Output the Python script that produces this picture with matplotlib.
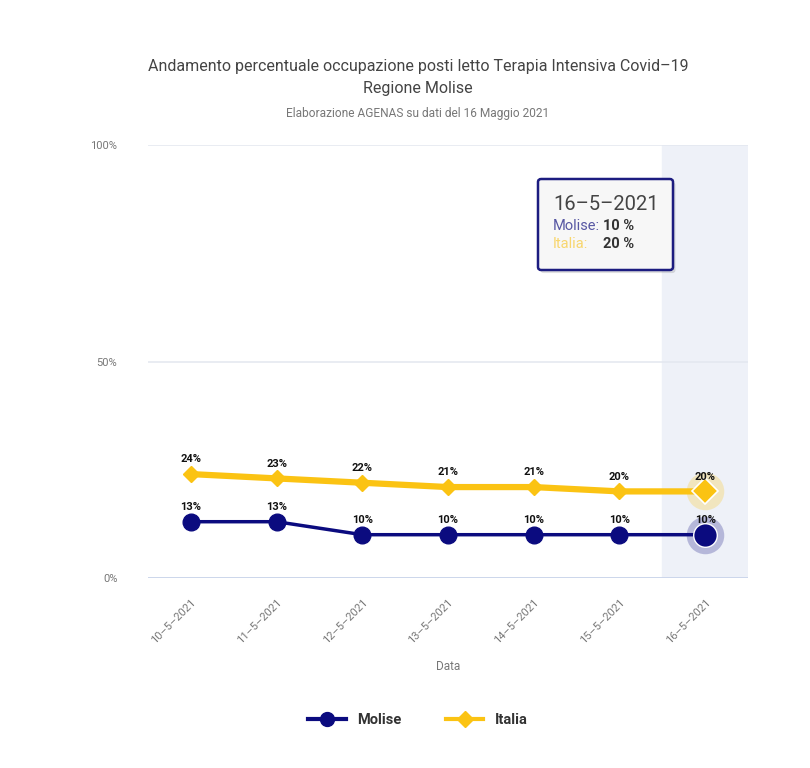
import matplotlib
matplotlib.use("Agg")
import matplotlib.pyplot as plt
from matplotlib.patches import FancyBboxPatch
from matplotlib.lines import Line2D

plt.rcParams['font.family'] = ['Roboto', 'DejaVu Sans']

# data ----
dates = ["10–5–2021", "11–5–2021", "12–5–2021", "13–5–2021",
         "14–5–2021", "15–5–2021", "16–5–2021"]
molise = [13, 13, 10, 10, 10, 10, 10]
italia = [24, 23, 22, 21, 21, 20, 20]
y_ticks = [0, 50, 100]

NAVY = "#0b0b7f"
GOLD = "#fbc313"
GRAY = "#777777"

W, H = 810, 768
fig = plt.figure(figsize=(W / 100, H / 100), dpi=100)
fig.patch.set_facecolor("white")

# plot area in pixel terms
left, right, top, bottom = 148, 748, 145, 578
ax = fig.add_axes([left / W, 1 - bottom / H, (right - left) / W, (bottom - top) / H])
ax.set_xlim(-0.5, len(dates) - 0.5)
ax.set_ylim(0, 100)
for s in ax.spines.values():
    s.set_visible(False)

# hovered category band
ax.axvspan(len(dates) - 1.5, len(dates) - 0.5, color="#eef1f8", zorder=0)

# grid
for v in y_ticks:
    ax.axhline(v, color="#ccd6eb" if v == 0 else "#e3e7ef", lw=1.4 if v == 0 else 1.1, zorder=1)

x = list(range(len(dates)))
ax.plot(x, italia, color=GOLD, lw=4.5, marker="D", ms=8.5, zorder=3,
        solid_capstyle="round")
ax.plot(x, molise, color=NAVY, lw=2.5, marker="o", ms=12, zorder=4)

# hover halos on last point
ax.plot(x[-1], italia[-1], marker="o", ms=27, color=GOLD, alpha=0.25,
        markeredgewidth=0, zorder=2)
ax.plot(x[-1], italia[-1], marker="D", ms=13, color=GOLD, mec="white", mew=1.2, zorder=5)
ax.plot(x[-1], molise[-1], marker="o", ms=27, color=NAVY, alpha=0.25,
        markeredgewidth=0, zorder=2)
ax.plot(x[-1], molise[-1], marker="o", ms=17, color=NAVY, mec="white", mew=1.0, zorder=5)

# data labels
for i in x:
    ax.annotate(f"{italia[i]}%", (i, italia[i]), xytext=(0, 7), textcoords="offset points",
                ha="center", va="bottom", fontsize=8, fontweight="bold", color="#111111", zorder=6)
    ax.annotate(f"{molise[i]}%", (i, molise[i]), xytext=(0, 7), textcoords="offset points",
                ha="center", va="bottom", fontsize=8, fontweight="bold", color="#111111", zorder=6)

# ticks
ax.set_yticks(y_ticks)
ax.set_yticklabels([f"{v}%" for v in y_ticks], color=GRAY, fontsize=8)
ax.tick_params(axis="y", length=0, pad=22)
ax.set_xticks(x)
ax.set_xticklabels(dates, rotation=45, ha="right", va="top", rotation_mode="anchor",
                   color=GRAY, fontsize=8)
ax.tick_params(axis="x", length=0, pad=14)
ax.set_xlabel("Data", color=GRAY, fontsize=8.5, labelpad=10)

# titles
cx = 418 / W
fig.text(cx, 1 - 67 / H, "Andamento percentuale occupazione posti letto Terapia Intensiva Covid–19",
         ha="center", va="center", fontsize=11.5, color="#444444")
fig.text(cx, 1 - 89 / H, "Regione Molise", ha="center", va="center", fontsize=11.5,
         color="#444444")
fig.text(cx, 1 - 114 / H, "Elaborazione AGENAS su dati del 16 Maggio 2021",
         ha="center", va="center", fontsize=8.6, color=GRAY)

# tooltip
bx, by, bw, bh = 538, 179, 135, 91
shadow = FancyBboxPatch((bx / W + 0.003, 1 - (by + bh) / H - 0.004), bw / W, bh / H,
                        boxstyle="round,pad=0,rounding_size=0.004", transform=fig.transFigure,
                        fc="#000000", ec="none", alpha=0.12, zorder=9)
box = FancyBboxPatch((bx / W, 1 - (by + bh) / H), bw / W, bh / H,
                     boxstyle="round,pad=0,rounding_size=0.004", transform=fig.transFigure,
                     fc="#f7f7f7", ec="#1c1c80", lw=1.8, zorder=10)
fig.add_artist(shadow)
fig.add_artist(box)
fig.text(553 / W, 1 - 205 / H, dates[-1], ha="left", va="center", fontsize=14.5,
         color="#444444", zorder=11)
fig.text(553 / W, 1 - 226 / H, "Molise:", ha="left", va="center", fontsize=10.5,
         color="#5757a3", zorder=11)
fig.text(603 / W, 1 - 226 / H, f"{molise[-1]} %", ha="left", va="center", fontsize=10.5,
         fontweight="bold", color="#333333", zorder=11)
fig.text(553 / W, 1 - 244 / H, "Italia:", ha="left", va="center", fontsize=10.5,
         color="#f8d66e", zorder=11)
fig.text(603 / W, 1 - 244 / H, f"{italia[-1]} %", ha="left", va="center", fontsize=10.5,
         fontweight="bold", color="#333333", zorder=11)

# legend
handles = [Line2D([0], [0], color=NAVY, lw=3, marker="o", ms=10),
           Line2D([0], [0], color=GOLD, lw=3, marker="D", ms=8)]
fig.legend(handles, ["Molise", "Italia"], loc="center", bbox_to_anchor=(cx, 1 - 720 / H),
           ncol=2, frameon=False, prop={"weight": "bold", "size": 10.5},
           handlelength=2.6, columnspacing=3.0, labelcolor="#333333")

fig.savefig("out.png", dpi=100)
